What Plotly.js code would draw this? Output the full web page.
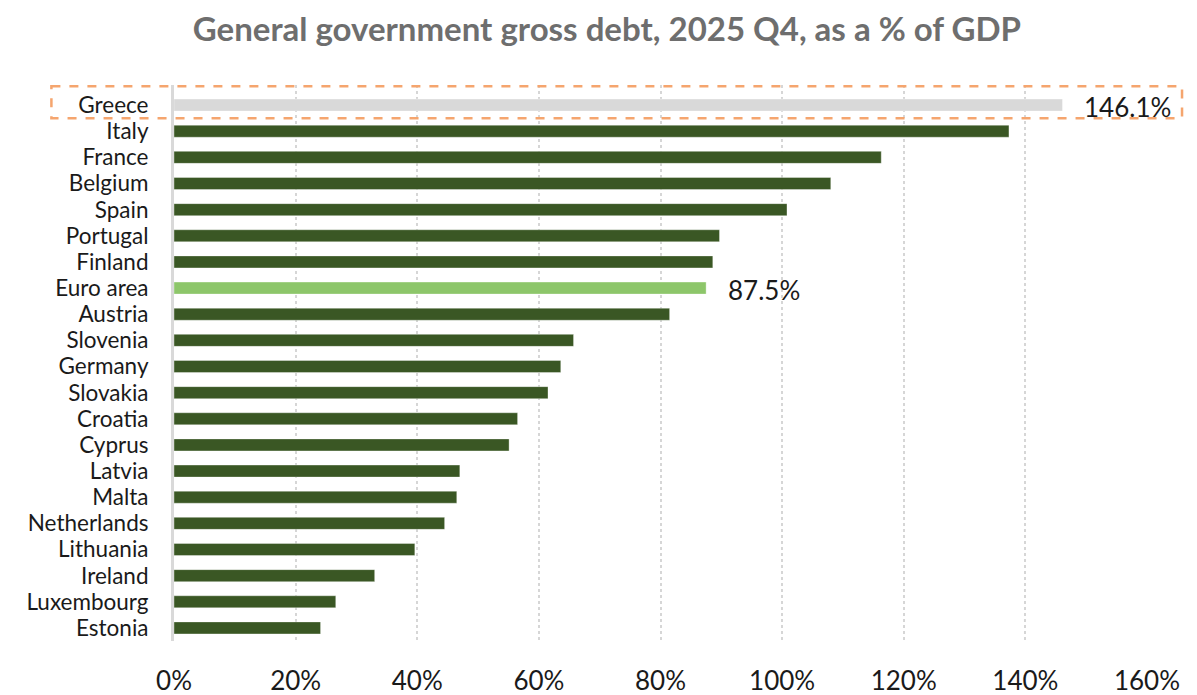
<!DOCTYPE html>
<html>
<head>
<meta charset="utf-8">
<script src="https://cdn.plot.ly/plotly-3.0.1.min.js"></script>
<style>html,body{margin:0;padding:0;background:#fff;}#chart{width:1197px;height:695px;}</style>
</head>
<body>
<div id="chart"></div>
<script>
const countries = ["Greece","Italy","France","Belgium","Spain","Portugal","Finland","Euro area","Austria","Slovenia","Germany","Slovakia","Croatia","Cyprus","Latvia","Malta","Netherlands","Lithuania","Ireland","Luxembourg","Estonia"];
const debtPct = [146.1,137.3,116.3,108.0,100.8,89.7,88.6,87.5,81.5,65.7,63.6,61.5,56.5,55.1,47.0,46.5,44.5,39.6,33.0,26.6,24.1];
const labelled = ["Greece","Euro area"];
const tickVals = [0,20,40,60,80,100,120,140,160];
const tickText = ["0%","20%","40%","60%","80%","100%","120%","140%","160%"];
const highlight = "Greece";

const colorFor = c => c === "Greece" ? "#d9d9d9" : (c === "Euro area" ? "#8dc66a" : "#3a5724");

const trace = {
  type: "bar",
  orientation: "h",
  x: debtPct,
  y: countries,
  marker: {color: countries.map(colorFor), line: {color: "rgba(255,255,255,0.35)", width: 1}},
  width: 0.46,
  hoverinfo: "x+y"
};

const annotations = labelled.map(c => {
  const i = countries.indexOf(c);
  return {
    x: debtPct[i], y: c, xref: "x", yref: "y",
    text: debtPct[i].toFixed(1) + "%",
    showarrow: false, xanchor: "left", xshift: 20, yshift: -2,
    font: {family: "Lato, sans-serif", size: 26, color: "#1a1a1a"}
  };
});

const hi = countries.indexOf(highlight);
const layout = {
  width: 1197, height: 695,
  margin: {l: 174, r: 50, t: 85, b: 54, autoexpand: false},
  paper_bgcolor: "#ffffff", plot_bgcolor: "#ffffff",
  title: {
    text: "<b>General government gross debt, 2025 Q4, as a % of GDP</b>",
    font: {family: "Lato, sans-serif", size: 33, color: "#6e6e6e"},
    xref: "container", x: 0.507, xanchor: "center",
    yref: "container", y: 0.958, yanchor: "middle"
  },
  xaxis: {
    range: [0, 160], tickvals: tickVals, ticktext: tickText,
    showgrid: true, gridcolor: "#d6d6d6", griddash: "dot", gridwidth: 2,
    zeroline: false, showline: false, ticks: "",
    ticklabelstandoff: 22, automargin: false,
    tickfont: {family: "Lato, sans-serif", size: 26, color: "#1a1a1a"},
    fixedrange: true
  },
  yaxis: {
    type: "category", autorange: "reversed",
    tickmode: "array", tickvals: countries, ticktext: countries,
    showgrid: false, zeroline: false,
    showline: true, linecolor: "#d9d9d9", linewidth: 3,
    ticks: "", ticklabelstandoff: 18, automargin: false,
    tickfont: {family: "Lato, sans-serif", size: 22.5, color: "#1a1a1a"},
    fixedrange: true
  },
  shapes: [{
    type: "rect", xref: "paper", yref: "y",
    x0: -0.126, x1: 1.036, y0: hi - 0.72, y1: hi + 0.5,
    line: {color: "#f5a56e", width: 2.5, dash: "dash"},
    fillcolor: "rgba(0,0,0,0)"
  }],
  annotations: annotations,
  showlegend: false,
  bargap: 0.54
};

Plotly.newPlot("chart", [trace], layout, {displayModeBar: false, staticPlot: true});
</script>
</body>
</html>
